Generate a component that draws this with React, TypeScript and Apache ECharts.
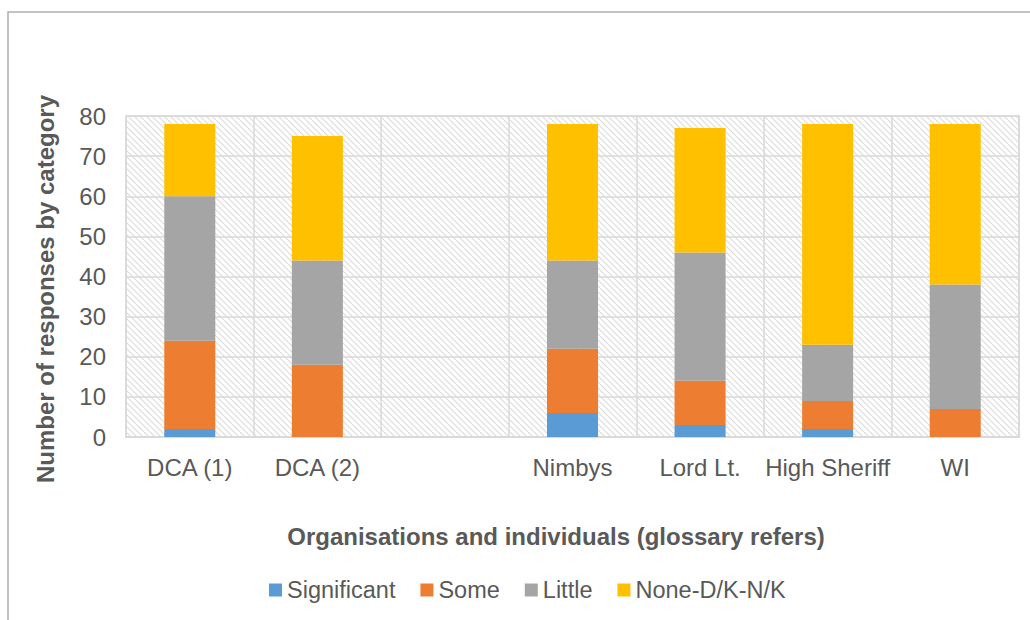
import React, { useEffect, useRef } from "react";
import * as echarts from "echarts";

const categories = ["DCA (1)", "DCA (2)", "", "Nimbys", "Lord Lt.", "High Sheriff", "WI"];
const seriesNames = ["Significant", "Some", "Little", "None-D/K-N/K"];
const significant = [2, 0, 0, 6, 3, 2, 0];
const some = [22, 18, 0, 16, 11, 7, 7];
const little = [36, 26, 0, 22, 32, 14, 31];
const none = [18, 31, 0, 34, 31, 55, 40];
const colors = ["#5B9BD5", "#ED7D31", "#A5A5A5", "#FFC000"];
const yTitle = "Number of responses by category";
const xTitle = "Organisations and individuals (glossary refers)";

function makeHatch(): string {
  const size = 6;
  const c = document.createElement("canvas");
  c.width = size;
  c.height = size;
  const ctx = c.getContext("2d")!;
  ctx.fillStyle = "#ffffff";
  ctx.fillRect(0, 0, size, size);
  ctx.strokeStyle = "#dadada";
  ctx.lineWidth = 1.1;
  for (let o = -size; o <= size; o += size) {
    ctx.beginPath();
    ctx.moveTo(o, 0);
    ctx.lineTo(o + size, size);
    ctx.stroke();
  }
  return c.toDataURL();
}

export default function App() {
  const ref = useRef<HTMLDivElement>(null);
  useEffect(() => {
    if (!ref.current) return;
    const chart = echarts.init(ref.current, null, { renderer: "svg" });
    const hatch = makeHatch();
    const font = "'Liberation Sans', Arial, sans-serif";
    const data = [significant, some, little, none];
    chart.setOption({
      animation: false,
      textStyle: { fontFamily: font },
      grid: {
        left: 126,
        right: 11,
        top: 116,
        bottom: 183,
        show: true,
        backgroundColor: { image: hatch, repeat: "repeat", imageWidth: 6, imageHeight: 6 },
        borderColor: "#d9d9d9",
        borderWidth: 1.5,
      },
      legend: {
        bottom: 13,
        left: 264,
        itemWidth: 13,
        itemHeight: 13,
        itemGap: 25,
        icon: "rect",
        textStyle: { fontSize: 23.5, color: "#595959", fontFamily: font, padding: [0, 0, 0, 0] },
        data: seriesNames,
      },
      xAxis: {
        type: "category",
        data: categories,
        axisLine: { lineStyle: { color: "#d9d9d9", width: 1.5 } },
        axisTick: { show: false },
        splitLine: { show: true, lineStyle: { color: "#d9d9d9", width: 1.5 } },
        axisLabel: { fontSize: 24, color: "#595959", margin: 18, interval: 0, fontFamily: font },
      },
      yAxis: {
        type: "value",
        min: 0,
        max: 80,
        interval: 10,
        axisLine: { show: false },
        axisTick: { show: false },
        splitLine: { show: true, lineStyle: { color: "#d9d9d9", width: 1.5 } },
        axisLabel: { fontSize: 24, color: "#595959", margin: 20, fontFamily: font },
      },
      series: seriesNames.map((n, i) => ({
        name: n,
        type: "bar",
        stack: "total",
        data: data[i],
        barWidth: "40%",
        itemStyle: { color: colors[i] },
      })),
      graphic: [
        {
          type: "rect",
          z: -10,
          shape: { x: 8, y: 12, width: 1040, height: 700 },
          style: { fill: "none", stroke: "#b0b0b0", lineWidth: 1.5 },
        },
        {
          type: "text",
          x: 45,
          y: 289,
          rotation: Math.PI / 2,
          style: {
            text: yTitle,
            fontSize: 24,
            fontWeight: "bold",
            fill: "#595959",
            fontFamily: font,
            align: "center",
            verticalAlign: "middle",
          },
        },
        {
          type: "text",
          x: 556,
          y: 536,
          style: {
            text: xTitle,
            fontSize: 24,
            fontWeight: "bold",
            fill: "#595959",
            fontFamily: font,
            align: "center",
            verticalAlign: "middle",
          },
        },
      ],
    });
    return () => chart.dispose();
  }, []);
  return (
    <div
      ref={ref}
      style={{ position: "fixed", left: 0, top: 0, width: 1030, height: 620, background: "#fff" }}
    />
  );
}
